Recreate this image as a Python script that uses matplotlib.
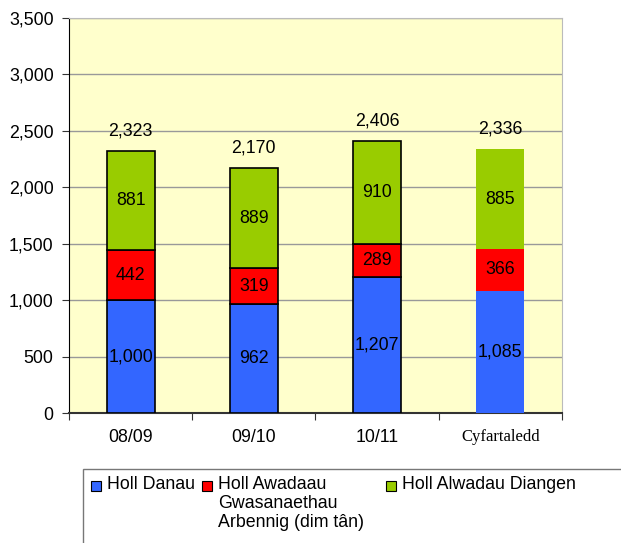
import matplotlib
matplotlib.use('Agg')
import matplotlib.pyplot as plt
from matplotlib.patches import Rectangle
import numpy as np

# data
categories = ['08/09', '09/10', '10/11', 'Cyfartaledd']
danau = [1000, 962, 1207, 1085]
arbennig = [442, 319, 289, 366]
diangen = [881, 889, 910, 885]
totals = [2323, 2170, 2406, 2336]
labels = ['Holl Danau', 'Holl Awadaau\nGwasanaethau\nArbennig (dim tân)', 'Holl Alwadau Diangen']
colors = ['#3366FF', '#FF0000', '#99CC00']

plt.rcParams['font.family'] = ['Liberation Sans', 'DejaVu Sans']
fs = 12.8

fig = plt.figure(figsize=(6.21, 5.43), dpi=100)
ax = fig.add_axes([0.111, 0.2394, 0.794, 0.7275])
ax.set_facecolor('#FFFFCC')

x = np.arange(len(categories))
w = 0.39
edges = ['black', 'black', 'black', 'none']

b1 = np.array(danau)
b2 = b1 + np.array(arbennig)

for i in range(len(categories)):
    ax.bar(x[i], danau[i], w, color=colors[0], edgecolor=edges[i], linewidth=1.2, zorder=3)
    ax.bar(x[i], arbennig[i], w, bottom=b1[i], color=colors[1], edgecolor=edges[i], linewidth=1.2, zorder=3)
    ax.bar(x[i], diangen[i], w, bottom=b2[i], color=colors[2], edgecolor=edges[i], linewidth=1.2, zorder=3)
    ax.text(x[i], danau[i] / 2, f'{danau[i]:,}', ha='center', va='center', fontsize=fs, zorder=4)
    ax.text(x[i], b1[i] + arbennig[i] / 2, f'{arbennig[i]:,}', ha='center', va='center', fontsize=fs, zorder=4)
    ax.text(x[i], b2[i] + diangen[i] / 2, f'{diangen[i]:,}', ha='center', va='center', fontsize=fs, zorder=4)
    ax.text(x[i], totals[i] + 180, f'{totals[i]:,}', ha='center', va='center', fontsize=fs, zorder=4)

ax.set_xlim(-0.5, 3.5)
ax.set_ylim(0, 3500)
ax.set_yticks(np.arange(0, 3501, 500))
ax.set_yticklabels([f'{v:,}' for v in range(0, 3501, 500)], fontsize=fs)
ax.yaxis.grid(True, color='#999999', linewidth=1, zorder=0)

# category ticks sit between bars
ax.set_xticks(np.arange(-0.5, 4, 1))
ax.set_xticklabels([])
ax.tick_params(axis='x', length=5, color='#333333')
ax.tick_params(axis='y', length=5, color='#333333', pad=6)
for i, c in enumerate(categories):
    if c == 'Cyfartaledd':
        ax.text(x[i], -0.062, c, transform=ax.get_xaxis_transform(), ha='center', va='center',
                fontsize=12, family='Liberation Serif')
    else:
        ax.text(x[i], -0.062, c, transform=ax.get_xaxis_transform(), ha='center', va='center', fontsize=fs)

ax.spines['left'].set_color('black')
ax.spines['bottom'].set_color('#333333')
ax.spines['bottom'].set_linewidth(1.5)
ax.spines['top'].set_color('#BBBBBB')
ax.spines['right'].set_color('#BBBBBB')

# legend box drawn by hand
fig.patches.append(Rectangle((83 / 621, -0.05), 0.9, 1 - 469 / 543 + 0.05, transform=fig.transFigure,
                             facecolor='white', edgecolor='#777777', linewidth=1))
lx = [91, 202, 386]
for i in range(3):
    fig.patches.append(Rectangle((lx[i] / 621, 1 - 491 / 543), 10 / 621, 10 / 543, transform=fig.transFigure,
                                 facecolor=colors[i], edgecolor='black', linewidth=0.8))
    fig.text((lx[i] + 16) / 621, 1 - 476 / 543, labels[i], ha='left', va='top', fontsize=fs,
             linespacing=1.15)

fig.savefig('out.png', dpi=100)
